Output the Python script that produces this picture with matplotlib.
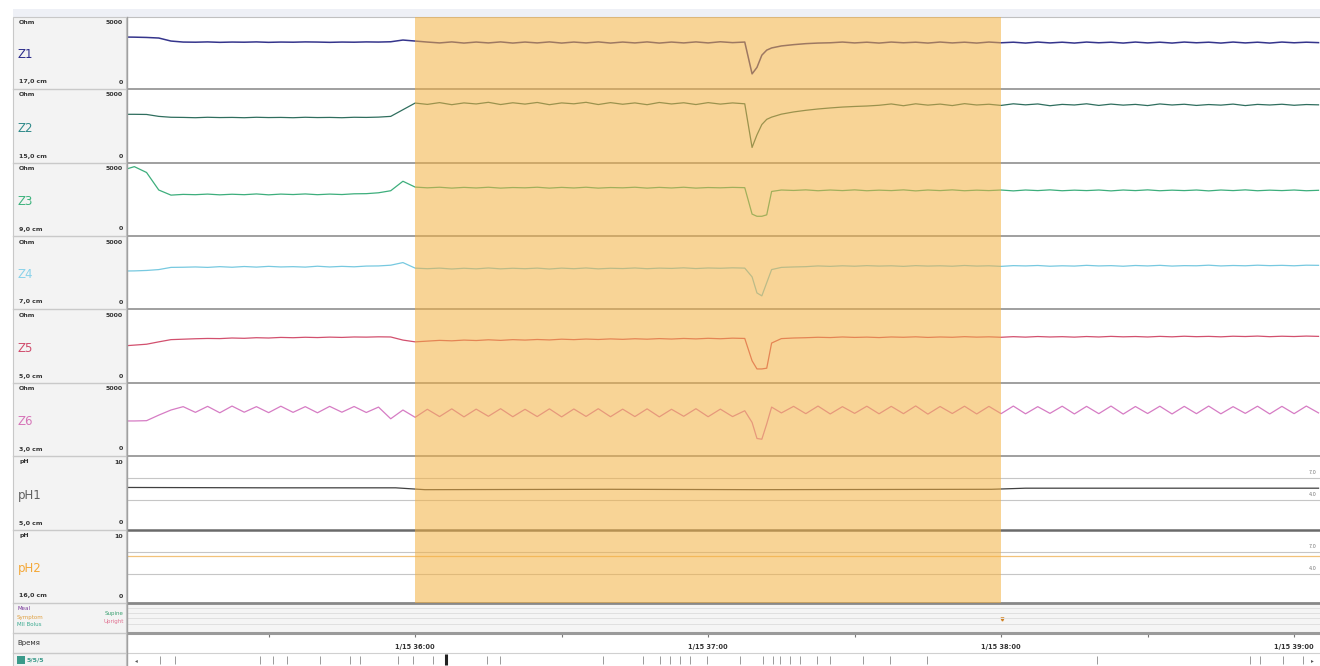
import numpy as np
import matplotlib
matplotlib.use("Agg")
import matplotlib.pyplot as plt
from matplotlib.lines import Line2D
from matplotlib.patches import Rectangle
from matplotlib.transforms import blended_transform_factory

# time axis in seconds after 1/15 35:00
t = np.concatenate([np.arange(0, 130, 2.5), [129, 130, 131, 132, 133], np.arange(135, 247.5, 2.5)])

z1 = ([3610, 3600, 3580, 3540, 3330, 3260, 3250, 3270, 3240, 3260,
       3250, 3270, 3240, 3260, 3250, 3270, 3260, 3240, 3260, 3250,
       3270, 3260, 3280, 3400, 3330, 3260, 3200, 3270, 3190, 3260,
       3200, 3270, 3190, 3260, 3200, 3270, 3190, 3260, 3200, 3270,
       3190, 3260, 3200, 3270, 3190, 3260, 3200, 3270, 3200, 3280,
       3220, 3260]
      + [1050, 1500, 2350, 2700, 2850]
      + [2990, 3080, 3150, 3190, 3210, 3260, 3200, 3250, 3190, 3260,
         3210, 3250, 3190, 3260, 3200, 3250, 3190, 3260, 3210, 3250,
         3190, 3260, 3200, 3250, 3190, 3260, 3210, 3250, 3190, 3260,
         3200, 3250, 3190, 3260, 3210, 3250, 3190, 3260, 3200, 3250,
         3190, 3260, 3210, 3250, 3220])

z2 = ([3290, 3290, 3280, 3150, 3090, 3080, 3060, 3090, 3070, 3080,
       3060, 3090, 3070, 3080, 3060, 3090, 3070, 3080, 3060, 3090,
       3080, 3100, 3150, 3600, 4050, 3960, 4080, 3940, 4060, 3990,
       4100, 3950, 4070, 3980, 4090, 3940, 4060, 4000, 4100, 3950,
       4080, 3970, 4060, 3940, 4090, 3990, 4070, 3950, 4080, 3980,
       4060, 4000]
      + [1050, 1900, 2600, 2950, 3100]
      + [3300, 3450, 3560, 3650, 3720, 3780, 3820, 3850, 3900, 3990,
         3870, 4000, 3910, 3980, 3880, 4010, 3920, 3970, 3890, 4000,
         3930, 3990, 3870, 3960, 3920, 4000, 3890, 3980, 3910, 3960,
         3880, 3990, 3920, 3970, 3890, 3950, 3910, 3980, 3880, 3960,
         3920, 3970, 3900, 3950, 3930])

z3 = ([4500, 4750, 4350, 3150, 2800, 2850, 2830, 2870, 2820, 2860,
       2830, 2880, 2820, 2870, 2840, 2880, 2830, 2870, 2840, 2890,
       2900, 2960, 3100, 3750, 3350, 3300, 3340, 3280, 3330, 3290,
       3340, 3280, 3320, 3300, 3340, 3280, 3330, 3290, 3340, 3280,
       3320, 3300, 3340, 3280, 3330, 3290, 3340, 3280, 3320, 3300,
       3330, 3310]
      + [1500, 1350, 1350, 1450, 3050]
      + [3150, 3120, 3160, 3100, 3150, 3110, 3160, 3100, 3140, 3110,
         3160, 3090, 3150, 3110, 3160, 3100, 3140, 3110, 3150, 3090,
         3150, 3110, 3160, 3100, 3140, 3110, 3150, 3090, 3150, 3110,
         3160, 3100, 3140, 3110, 3150, 3090, 3150, 3110, 3160, 3100,
         3140, 3110, 3150, 3100, 3130])

z4 = ([2600, 2610, 2640, 2700, 2850, 2860, 2880, 2850, 2900, 2860,
       2910, 2870, 2920, 2880, 2900, 2870, 2930, 2880, 2920, 2890,
       2940, 2950, 3000, 3180, 2800, 2760, 2800, 2740, 2790, 2750,
       2810, 2750, 2790, 2760, 2800, 2740, 2800, 2760, 2810, 2750,
       2790, 2770, 2810, 2760, 2800, 2780, 2820, 2770, 2810, 2790,
       2820, 2800]
      + [2200, 1100, 900, 1800, 2700]
      + [2850, 2880, 2900, 2950, 2920, 2960, 2930, 2970, 2940, 2960,
         2920, 2970, 2940, 2960, 2930, 2980, 2940, 2960, 2920, 2970,
         2950, 2980, 2930, 2960, 2940, 2990, 2950, 2970, 2930, 2980,
         2950, 2990, 2940, 2970, 2960, 3000, 2950, 2980, 2960, 3000,
         2970, 2990, 2960, 3000, 2990])

z5 = ([2500, 2560, 2620, 2780, 2930, 2960, 2990, 3010, 3000, 3040,
       3020, 3060, 3040, 3080, 3060, 3090, 3070, 3100, 3080, 3110,
       3100, 3120, 3110, 2900, 2780, 2830, 2880, 2850, 2900, 2870,
       2920, 2880, 2930, 2900, 2940, 2910, 2960, 2930, 2970, 2940,
       2980, 2950, 2990, 2960, 3000, 2970, 3010, 2980, 3020, 2990,
       3030, 3010]
      + [1500, 950, 950, 1000, 2700]
      + [3000, 3040, 3060, 3090, 3070, 3110, 3080, 3100, 3070, 3110,
         3090, 3120, 3080, 3110, 3090, 3130, 3100, 3120, 3090, 3130,
         3100, 3140, 3110, 3130, 3100, 3140, 3110, 3150, 3120, 3140,
         3110, 3150, 3120, 3160, 3130, 3150, 3120, 3160, 3140, 3170,
         3130, 3160, 3140, 3170, 3150])

z6 = ([2400, 2400, 2420, 2800, 3150, 3380, 2990, 3400, 2960, 3420,
       3000, 3380, 2970, 3410, 2990, 3380, 2960, 3400, 3000, 3390,
       2980, 3350, 2550, 3150, 2650, 3200, 2700, 3230, 2680, 3210,
       2720, 3240, 2690, 3200, 2700, 3230, 2680, 3220, 2710, 3240,
       2690, 3210, 2700, 3230, 2680, 3200, 2720, 3240, 2690, 3210,
       2700, 3100]
      + [2300, 1200, 1150, 2200, 3350]
      + [2950, 3400, 2900, 3420, 2880, 3380, 2920, 3410, 2890, 3400,
         2900, 3430, 2870, 3390, 2910, 3410, 2880, 3400, 2900, 3420,
         2890, 3380, 2920, 3410, 2880, 3400, 2900, 3420, 2870, 3390,
         2910, 3410, 2880, 3400, 2900, 3420, 2890, 3380, 2920, 3410,
         2880, 3400, 2900, 3420, 2950])

ph1_t = [0, 30, 56, 62, 100, 130, 178, 185, 245]
ph1 = [5.75, 5.7, 5.7, 5.45, 5.5, 5.45, 5.5, 5.65, 5.65]
ph2_t = [0, 245]
ph2 = [6.4, 6.4]

names = ["Z1", "Z2", "Z3", "Z4", "Z5", "Z6", "pH1", "pH2"]
positions = ["17,0 cm", "15,0 cm", "9,0 cm", "7,0 cm", "5,0 cm", "3,0 cm", "5,0 cm", "16,0 cm"]
units = ["Ohm"] * 6 + ["pH"] * 2
top_vals = ["5000"] * 6 + ["10"] * 2
label_colors = ["#2b2b8a", "#2f8a8a", "#3cb27c", "#8ad2ea", "#d04c6c", "#d674b8", "#606060", "#f3a838"]
line_colors = ["#35358c", "#2f6e5e", "#3dae7c", "#77c9e0", "#d2506e", "#d67cc4", "#404040", "#f2c27a"]
ph_refs = [7.0, 4.0]

shade_start, shade_end = 60, 180
minute_ticks = [60, 120, 180, 240]
minute_labels = ["1/15 36:00", "1/15 37:00", "1/15 38:00", "1/15 39:00"]
half_ticks = [30, 60, 90, 120, 150, 180, 210, 240]
event_marks = [7.8, 10.9, 28.3, 30.9, 33.8, 40.5, 46.7, 48.7, 56.5, 59.6, 63.7, 74.7, 77.4,
               98.5, 106.7, 110.2, 112.2, 114.3, 116.3, 119.8, 126.6, 131.3, 133.3, 134.8,
               136.8, 138.9, 142.3, 145.0, 151.8, 157.3, 164.9, 199.7, 231.0, 233.1, 237.8, 241.9]
cursor_mark = 66.4
symptom_mark = 180.2

W, H = 1320, 666
PL, PR = 128, 1320
LL, LR = 13, 126
rows = [17, 89, 163, 236, 309, 383, 456, 530, 603]
X0, X1 = 1.2, 245.3

fig = plt.figure(figsize=(W / 100, H / 100), dpi=100)


def fx(x):
    return x / W


def fy(y):
    return 1 - y / H


def add_box(top, bottom, left=PL, right=PR):
    ax = fig.add_axes([fx(left), fy(bottom), fx(right) - fx(left), fy(top) - fy(bottom)])
    ax.set_xlim(X0, X1)
    ax.set_xticks([])
    ax.set_yticks([])
    for s in ax.spines.values():
        s.set_visible(False)
    return ax


def hline(y, x0, x1, color, lw, z=3):
    fig.add_artist(Line2D([fx(x0), fx(x1)], [fy(y), fy(y)], color=color, lw=lw, zorder=z))


def label(x, y, s, **kw):
    fig.text(fx(x), fy(y), s, va="center", **kw)


# top band and label column background
fig.add_artist(Rectangle((fx(LL), fy(17)), fx(PR) - fx(LL), fy(9) - fy(17),
                         facecolor="#eef0f6", lw=0, zorder=1))
fig.add_artist(Rectangle((fx(LL), fy(666)), fx(LR) - fx(LL), fy(17) - fy(666),
                         facecolor="#f3f3f3", edgecolor="#c8c8c8", lw=0.8, zorder=1))

series = [z1, z2, z3, z4, z5, z6]
axes = []
for i in range(8):
    top, bottom = rows[i], rows[i + 1]
    ax = add_box(top, bottom)
    axes.append(ax)
    if i < 6:
        ax.set_ylim(0, 5000)
        ax.plot(t, series[i], color=line_colors[i], lw=0.9 if i != 0 else 1.1)
    else:
        ax.set_ylim(0, 10)
        for r in ph_refs:
            ax.axhline(r, color="#c6c6c6", lw=0.8)
            ax.text(X1 - 0.8, r + 0.4, f"{r:.1f}", fontsize=3.5, color="#777777",
                    ha="right", va="bottom")
        if i == 6:
            ax.plot(ph1_t, ph1, color=line_colors[i], lw=0.9)
        else:
            ax.plot(ph2_t, ph2, color=line_colors[i], lw=0.9)

    label(19, top + 6, units[i], fontsize=4.5, color="#333333", fontweight="bold")
    label(123, top + 6, top_vals[i], fontsize=4.5, color="#333333", fontweight="bold", ha="right")
    label(18, (top + bottom) / 2 + 2, names[i], fontsize=8.5, color=label_colors[i])
    label(19, bottom - 7, positions[i], fontsize=4.5, color="#333333", fontweight="bold")
    label(123, bottom - 7, "0", fontsize=4.5, color="#333333", fontweight="bold", ha="right")

# events row
ax_ev = add_box(603, 633)
ax_ev.set_facecolor("#f5f5f5")
ax_ev.set_ylim(0, 1)
ax_ev.plot([symptom_mark], [0.47], marker="v", markersize=2.2, color="#d08020", lw=0)
for y in [608, 613, 618, 624]:
    hline(y, PL, PR, "#e0e0e0", 0.7, z=2)
label(17, 609, "Meal", fontsize=4, color="#7a3b9a")
label(17, 617, "Symptom", fontsize=4, color="#e0a040")
label(17, 625, "MII Bolus", fontsize=4, color="#3aaa90")
label(124, 613, "Supine", fontsize=4, color="#3aa070", ha="right")
label(124, 621, "Upright", fontsize=4, color="#e07090", ha="right")

# time row
ax_t = add_box(633, 653)
ax_t.set_ylim(0, 1)
ax_t.vlines(half_ticks, 0.8, 1.0, color="#777777", lw=0.8)
for tk, lb in zip(minute_ticks, minute_labels):
    ax_t.text(tk, 0.28, lb, fontsize=4.8, fontweight="bold", color="#333333", ha="center", va="center")
label(17, 643, "Время", fontsize=5, color="#333333")

# bottom overview row
ax_b = add_box(653, 666)
ax_b.set_ylim(0, 1)
ax_b.vlines(event_marks, 0.15, 0.75, color="#9a9a9a", lw=0.7)
ax_b.vlines([cursor_mark], 0.05, 0.95, color="#222222", lw=2.2)
ax_b.text(3, 0.45, "◂", fontsize=4, color="#555555", ha="center", va="center")
ax_b.text(X1 - 1.5, 0.45, "▸", fontsize=4, color="#555555", ha="center", va="center")
fig.add_artist(Rectangle((fx(17), fy(664)), fx(25) - fx(17), fy(656) - fy(664),
                         facecolor="#3a9a8a", lw=0, zorder=3))
label(27, 660, "5/5/5", fontsize=4.5, color="#3a9a8a", fontweight="bold")

# panel separators
for y in rows[1:7]:
    hline(y, PL, PR, "#8f8f8f", 1.2)
hline(rows[7], PL, PR, "#6a6a6a", 1.8)
hline(rows[8], PL, PR, "#888888", 2.0)
hline(633, PL, PR, "#9a9a9a", 2.2)
hline(653, PL, PR, "#d0d0d0", 0.8)
hline(rows[0], PL, PR, "#c0c0c0", 0.8)
for y in rows[1:] + [633, 653]:
    hline(y, LL, LR, "#c9c9c9", 1.0)
fig.add_artist(Line2D([fx(127), fx(127)], [fy(17), fy(666)], color="#a0a0a0", lw=1.0, zorder=3))

# highlighted interval 36:00 - 38:00
trans = blended_transform_factory(axes[0].transData, fig.transFigure)
fig.add_artist(Rectangle((shade_start, fy(rows[8])), shade_end - shade_start, fy(rows[0]) - fy(rows[8]),
                         transform=trans, facecolor="#f4b140", alpha=0.55, lw=0, zorder=20))

fig.savefig("out.png", dpi=100)
